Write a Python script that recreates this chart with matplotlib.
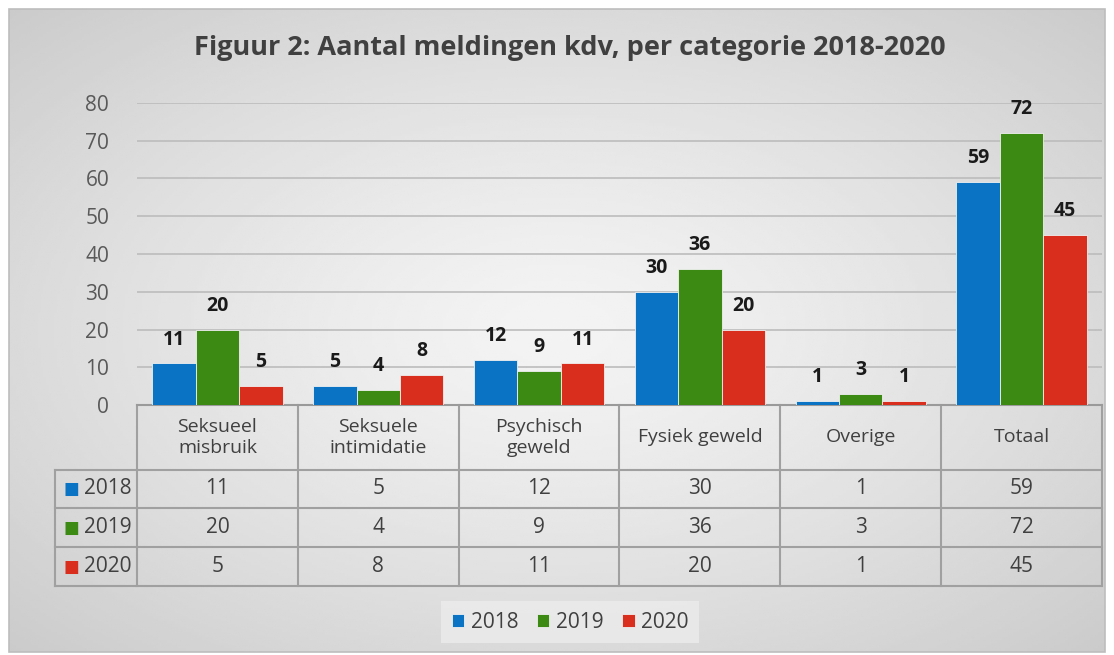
import numpy as np
import matplotlib.pyplot as plt
from matplotlib.patches import Rectangle
from matplotlib.transforms import blended_transform_factory

plt.rcParams['font.family'] = ['Open Sans', 'DejaVu Sans']

categories = ["Seksueel\nmisbruik", "Seksuele\nintimidatie", "Psychisch\ngeweld",
              "Fysiek geweld", "Overige", "Totaal"]
years = ["2018", "2019", "2020"]
v2018 = [11, 5, 12, 30, 1, 59]
v2019 = [20, 4, 9, 36, 3, 72]
v2020 = [5, 8, 11, 20, 1, 45]
colors = ["#0A73C4", "#3C8A14", "#D92D1E"]

W, H = 1114, 655
fig = plt.figure(figsize=(W / 100, H / 100), dpi=100)
fig.patch.set_facecolor("white")

# background with radial gradient, like the excel chart area
bg = fig.add_axes([0, 0, 1, 1], zorder=0)
bg.set_xlim(0, W)
bg.set_ylim(H, 0)
bg.axis("off")
x0, x1, y0, y1 = 9, 1105, 9, 652
gx, gy = np.meshgrid(np.linspace(-1, 1, 400), np.linspace(-1, 1, 240))
r = np.clip(np.sqrt(gx ** 2 + gy ** 2) / np.sqrt(2), 0, 1)
shade = 0.955 - 0.16 * r ** 1.3
bg.imshow(shade, cmap="gray", vmin=0, vmax=1, extent=(x0, x1, y1, y0), aspect="auto", zorder=0)
bg.add_patch(Rectangle((x0, y0), x1 - x0, y1 - y0, fill=False, ec="#bdbdbd", lw=1.2, zorder=1))

bg.text(570, 48, "Figuur 2: Aantal meldingen kdv, per categorie 2018-2020",
        ha="center", va="center", fontsize=19.5, fontweight="bold", color="#404040")

# plot area
px_l, px_r, px_t, px_b = 137, 1102, 103, 405
ax = fig.add_axes([px_l / W, 1 - px_b / H, (px_r - px_l) / W, (px_b - px_t) / H], zorder=2)
ax.patch.set_alpha(0)
ax.set_xlim(-0.5, len(categories) - 0.5)
ax.set_ylim(0, 80)
ax.set_yticks(range(0, 81, 10))
ax.tick_params(axis="y", length=0, pad=20, labelsize=15, labelcolor="#595959")
ax.set_xticks([])
for s in ["top", "right", "left"]:
    ax.spines[s].set_visible(False)
ax.spines["bottom"].set_color("#9a9a9a")
ax.spines["bottom"].set_linewidth(1.5)
ax.yaxis.grid(True, color="#bcbcbc", lw=1.2)
ax.set_axisbelow(True)

x = np.arange(len(categories))
bw = 0.27
series = [v2018, v2019, v2020]
for i, vals in enumerate(series):
    bars = ax.bar(x + (i - 1) * bw, vals, bw, color=colors[i], edgecolor="#f0f0f0",
                  lw=0.6, label=years[i], zorder=3)
    for b, v in zip(bars, vals):
        ax.annotate(str(v), (b.get_x() + b.get_width() / 2, v), xytext=(0, 10),
                    textcoords="offset points", ha="center", va="bottom",
                    fontsize=14, fontweight="bold", color="#1a1a1a")

# data table under the plot
tr = blended_transform_factory(ax.transData, ax.transAxes)
ph = px_b - px_t
rows_px = [405, 470, 508, 547, 586]
rows = [(px_b - p) / ph for p in rows_px]
left_ax = (55 - px_l) / (px_r - px_l)
lc = "#a0a0a0"
lw = 1.5
for yy in rows[1:]:
    ax.plot([left_ax, 1], [yy, yy], transform=ax.transAxes, color=lc, lw=lw, clip_on=False)
for k in range(len(categories) + 1):
    ax.plot([k - 0.5, k - 0.5], [rows[0], rows[-1]], transform=tr, color=lc, lw=lw, clip_on=False)
ax.plot([left_ax, left_ax], [rows[1], rows[-1]], transform=ax.transAxes, color=lc, lw=lw, clip_on=False)

for k, c in enumerate(categories):
    ax.text(k, (rows[0] + rows[1]) / 2, c, transform=tr, ha="center", va="center",
            fontsize=14, color="#404040", linespacing=1.2)
for i, vals in enumerate(series):
    ym = (rows[i + 1] + rows[i + 2]) / 2
    ax.text(left_ax + 0.009, ym, "\u25a0", transform=ax.transAxes, ha="left", va="center",
            fontsize=12, color=colors[i], family="DejaVu Sans")
    ax.text(left_ax + 0.030, ym, years[i], transform=ax.transAxes, ha="left", va="center",
            fontsize=15, color="#404040")
    for k, v in enumerate(vals):
        ax.text(k, ym, str(v), transform=tr, ha="center", va="center",
                fontsize=15, color="#404040")

leg = fig.legend(loc="center", bbox_to_anchor=(570 / W, 1 - 622 / H), ncol=3, frameon=True,
                 fontsize=15, handlelength=0.6, handleheight=0.6, handletextpad=0.3,
                 columnspacing=0.9, borderpad=0.5)
leg.get_frame().set_facecolor("#ececec")
leg.get_frame().set_edgecolor("none")
leg.get_frame().set_boxstyle("square", pad=0)
for t in leg.get_texts():
    t.set_color("#404040")

fig.savefig("out.png", dpi=100)
